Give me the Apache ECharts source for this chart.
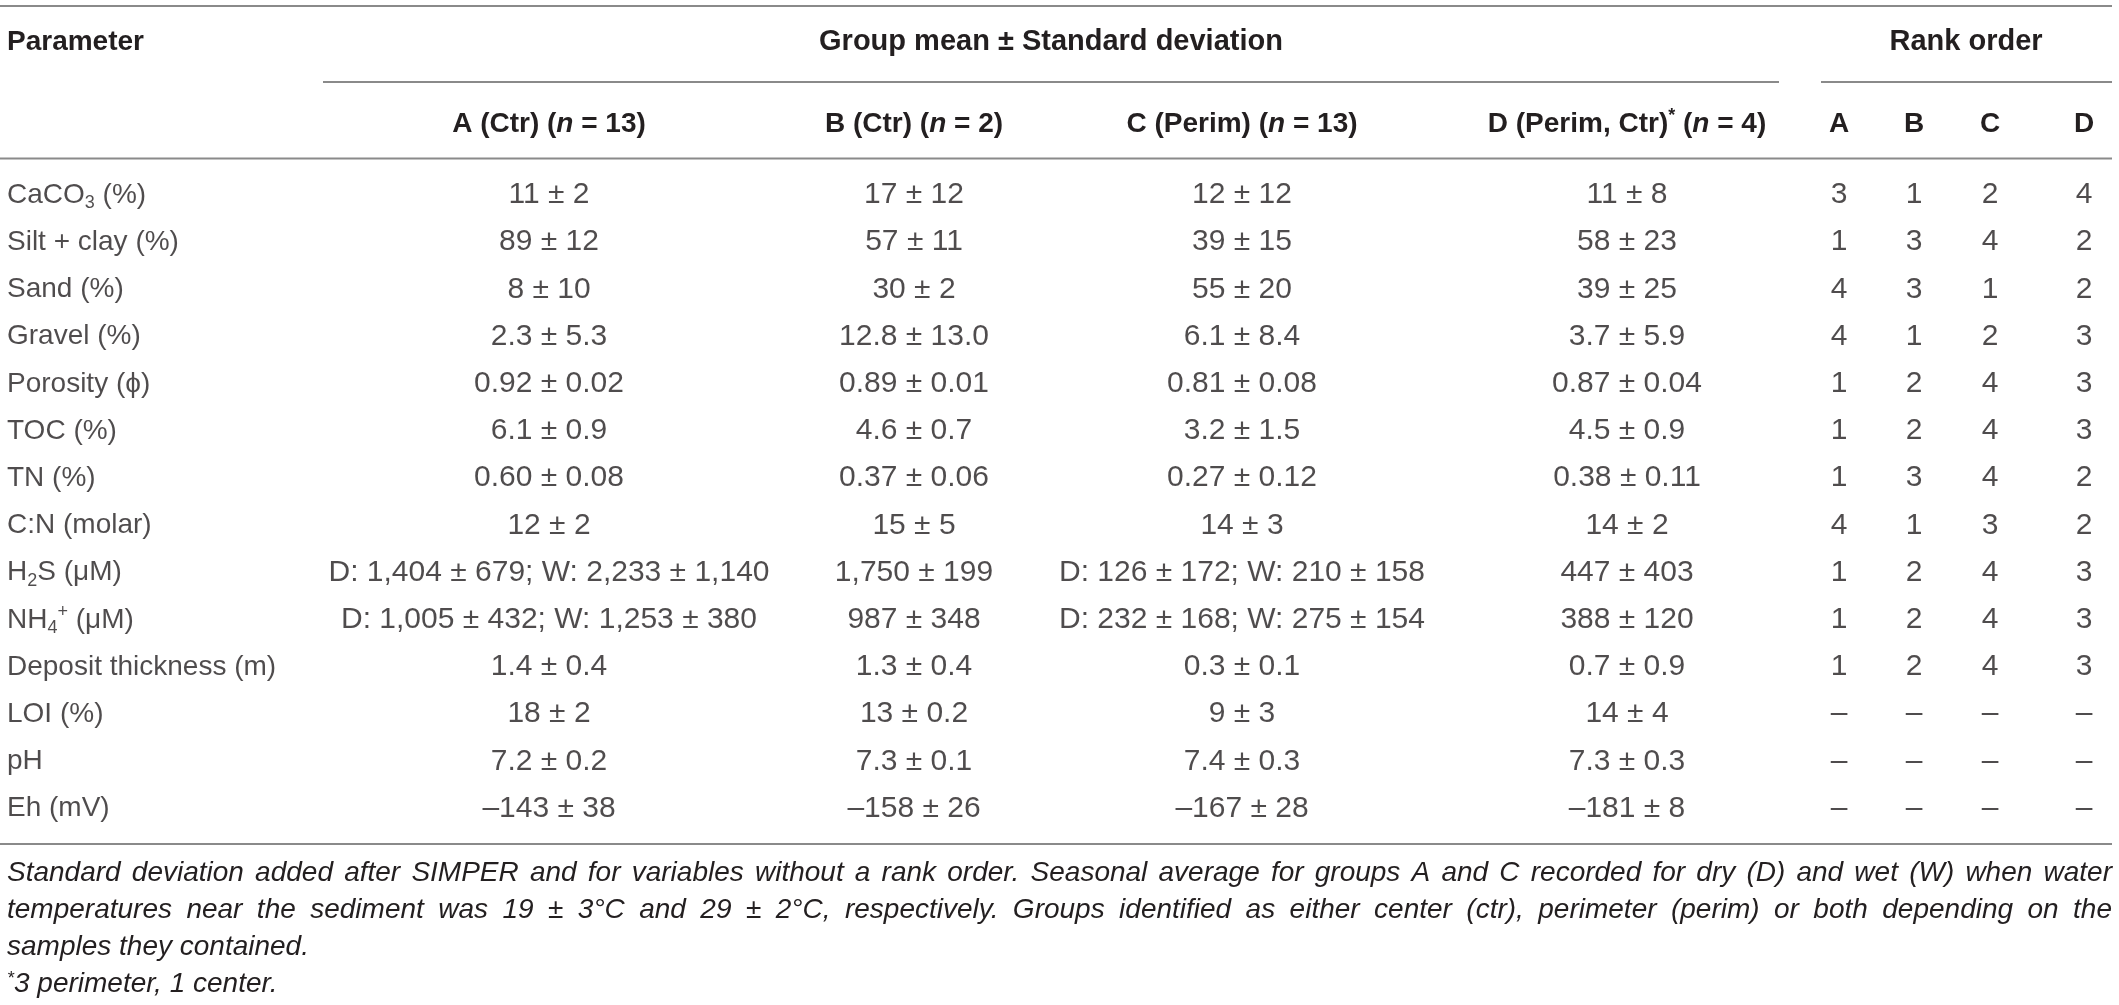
<!DOCTYPE html>
<html>
<head>
    <meta charset="utf-8">
    <title>Group mean ± Standard deviation</title>
    <script src="https://cdn.jsdelivr.net/npm/echarts@6.0.0/dist/echarts.min.js"></script>
</head>
<body style="margin:0;background:#fff;">
    <div id="main" style="width: 2119px;height:1005px;"></div>

    <script type="text/javascript">
        // table content
        var params = ['CaCO{sub|3} (%)', 'Silt + clay (%)', 'Sand (%)', 'Gravel (%)', 'Porosity (ϕ)', 'TOC (%)',
            'TN (%)', 'C:N (molar)', 'H{sub|2}S (μM)', 'NH{sub|4}{sup|+} (μM)', 'Deposit thickness (m)',
            'LOI (%)', 'pH', 'Eh (mV)']
        var groupHeads = ['A (Ctr) ({it|n} = 13)', 'B (Ctr) ({it|n} = 2)', 'C (Perim) ({it|n} = 13)',
            'D (Perim, Ctr){sup|*} ({it|n} = 4)']
        var rankHeads = ['A', 'B', 'C', 'D']

        var meanA = ['11 ± 2', '89 ± 12', '8 ± 10', '2.3 ± 5.3', '0.92 ± 0.02', '6.1 ± 0.9', '0.60 ± 0.08', '12 ± 2',
            'D: 1,404 ± 679; W: 2,233 ± 1,140', 'D: 1,005 ± 432; W: 1,253 ± 380', '1.4 ± 0.4', '18 ± 2',
            '7.2 ± 0.2', '–143 ± 38']
        var meanB = ['17 ± 12', '57 ± 11', '30 ± 2', '12.8 ± 13.0', '0.89 ± 0.01', '4.6 ± 0.7', '0.37 ± 0.06',
            '15 ± 5', '1,750 ± 199', '987 ± 348', '1.3 ± 0.4', '13 ± 0.2', '7.3 ± 0.1', '–158 ± 26']
        var meanC = ['12 ± 12', '39 ± 15', '55 ± 20', '6.1 ± 8.4', '0.81 ± 0.08', '3.2 ± 1.5', '0.27 ± 0.12',
            '14 ± 3', 'D: 126 ± 172; W: 210 ± 158', 'D: 232 ± 168; W: 275 ± 154', '0.3 ± 0.1', '9 ± 3',
            '7.4 ± 0.3', '–167 ± 28']
        var meanD = ['11 ± 8', '58 ± 23', '39 ± 25', '3.7 ± 5.9', '0.87 ± 0.04', '4.5 ± 0.9', '0.38 ± 0.11',
            '14 ± 2', '447 ± 403', '388 ± 120', '0.7 ± 0.9', '14 ± 4', '7.3 ± 0.3', '–181 ± 8']

        var rankA = [3, 1, 4, 4, 1, 1, 1, 4, 1, 1, 1, '–', '–', '–']
        var rankB = [1, 3, 3, 1, 2, 2, 3, 1, 2, 2, 2, '–', '–', '–']
        var rankC = [2, 4, 1, 2, 4, 4, 4, 3, 4, 4, 4, '–', '–', '–']
        var rankD = [4, 2, 2, 3, 3, 3, 2, 2, 3, 3, 3, '–', '–', '–']

        var notes = [
            'Standard deviation added after SIMPER and for variables without a rank order. Seasonal average for groups A and C recorded for dry (D) and wet (W) when water',
            'temperatures near the sediment was 19 ± 3°C and 29 ± 2°C, respectively. Groups identified as either center (ctr), perimeter (perim) or both depending on the',
            'samples they contained.',
            '{sup|*}3 perimeter, 1 center.'
        ]
        var notesJustified = [true, true, false, false]

        // look
        var FONT = '"Liberation Sans", Arial, Helvetica, sans-serif'
        var INK = '#231f20'
        var RULE = '#8a8a8a'
        var SIZE = 28
        var NUM_SIZE = 30
        var ROW_TOP = 171.4
        var ROW_H = 47.2
        var RIGHT = 2112

        var richBody = {
            sub: {fontSize: 18, lineHeight: 20, verticalAlign: 'bottom', fontFamily: FONT, color: INK},
            sup: {fontSize: 18, lineHeight: 20, verticalAlign: 'top', fontFamily: FONT, color: INK}
        }
        var richHead = {
            it: {fontSize: SIZE, fontStyle: 'italic', fontWeight: 'bold', fontFamily: FONT, color: INK},
            sup: {fontSize: 18, lineHeight: 20, verticalAlign: 'top', fontWeight: 'bold', fontFamily: FONT, color: INK}
        }

        var columns = [
            {head: 'Parameter', cells: params, cx: 7, align: 'left', headY: 42, size: SIZE},
            {head: groupHeads[0], cells: meanA, cx: 549, align: 'center', headY: 124, size: NUM_SIZE},
            {head: groupHeads[1], cells: meanB, cx: 914, align: 'center', headY: 124, size: NUM_SIZE},
            {head: groupHeads[2], cells: meanC, cx: 1242, align: 'center', headY: 124, size: NUM_SIZE},
            {head: groupHeads[3], cells: meanD, cx: 1627, align: 'center', headY: 124, size: NUM_SIZE},
            {head: rankHeads[0], cells: rankA, cx: 1839, align: 'center', headY: 124, size: NUM_SIZE},
            {head: rankHeads[1], cells: rankB, cx: 1914, align: 'center', headY: 124, size: NUM_SIZE},
            {head: rankHeads[2], cells: rankC, cx: 1990, align: 'center', headY: 124, size: NUM_SIZE},
            {head: rankHeads[3], cells: rankD, cx: 2084, align: 'center', headY: 124, size: NUM_SIZE}
        ]

        var rule = function (x1, x2, y) {
            return {
                type: 'line',
                shape: {x1: x1, y1: y, x2: x2, y2: y},
                style: {stroke: RULE, lineWidth: 2}
            }
        }

        var boldText = function (text, x, y) {
            return {
                type: 'text', x: x, y: y,
                style: {
                    text: text, fill: INK, fontSize: 29, fontWeight: 'bold', fontFamily: FONT,
                    align: 'center', verticalAlign: 'middle'
                }
            }
        }

        // footnote lines, the first two spread over the full width
        var noteItems = function () {
            var ctx = document.createElement('canvas').getContext('2d')
            ctx.font = 'italic ' + SIZE + 'px ' + FONT
            var items = []
            notes.forEach(function (line, i) {
                var text = line
                var gap = ctx.measureText(' ').width
                if (notesJustified[i]) {
                    var words = line.split(' ')
                    var used = 0
                    words.forEach(function (w) {
                        used += ctx.measureText(w).width
                    })
                    gap = (RIGHT - 7 - used) / (words.length - 1)
                    text = words.join('{g| }')
                }
                items.push({
                    type: 'text', x: 7, y: 873 + i * 37,
                    style: {
                        text: text, fill: INK, fontSize: SIZE, fontStyle: 'italic', fontFamily: FONT,
                        align: 'left', verticalAlign: 'middle',
                        rich: {
                            g: {width: gap, fontSize: SIZE, fontStyle: 'italic', fontFamily: FONT},
                            sup: {fontSize: 18, lineHeight: 20, verticalAlign: 'top', fontStyle: 'italic',
                                fontFamily: FONT, fill: INK}
                        }
                    }
                })
            })
            return items
        }

        var drawTable = function () {
            var chart = echarts.init(document.getElementById('main'))
            var grids = []
            var xAxes = []
            var yAxes = []
            var series = []
            columns.forEach(function (col, i) {
                grids.push({left: col.cx - 1, width: 2, top: ROW_TOP, height: ROW_H * params.length})
                xAxes.push({
                    type: 'category', gridIndex: i, position: 'top', data: [col.head],
                    axisLine: {show: false}, axisTick: {show: false}, splitLine: {show: false},
                    axisLabel: {
                        interval: 0, margin: ROW_TOP - col.headY, align: col.align, verticalAlign: 'middle',
                        fontSize: SIZE, fontWeight: 'bold', fontFamily: FONT, color: INK, lineHeight: 34,
                        rich: richHead
                    }
                })
                yAxes.push({
                    type: 'category', gridIndex: i, data: params, inverse: true, show: false
                })
                series.push({
                    type: 'scatter', xAxisIndex: i, yAxisIndex: i, silent: true,
                    symbolSize: 1, itemStyle: {color: 'rgba(0,0,0,0)'},
                    data: col.cells.map(function (v, r) {
                        return [0, r]
                    }),
                    label: {
                        show: true, position: 'inside', align: col.align, verticalAlign: 'middle',
                        fontSize: col.size, fontFamily: FONT, color: INK, lineHeight: 34, rich: richBody,
                        formatter: function (p) {
                            return String(col.cells[p.dataIndex])
                        }
                    }
                })
            })

            var graphic = [
                rule(0, RIGHT, 6),
                boldText('Group mean ± Standard deviation', 1051, 42),
                boldText('Rank order', 1966, 42),
                rule(323, 1779, 82),
                rule(1821, RIGHT, 82),
                rule(0, RIGHT, 158.5),
                rule(0, RIGHT, 844)
            ].concat(noteItems())

            var option = {
                animation: false,
                backgroundColor: '#fff',
                grid: grids,
                xAxis: xAxes,
                yAxis: yAxes,
                series: series,
                graphic: graphic
            }
            chart.setOption(option)
        }

        drawTable()
    </script>
</body>
</html>
